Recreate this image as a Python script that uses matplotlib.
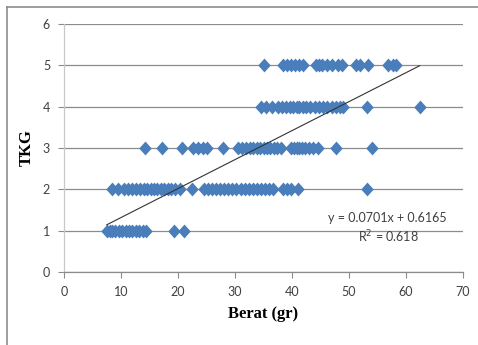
import matplotlib
matplotlib.use("Agg")
import matplotlib.pyplot as plt
from matplotlib.lines import Line2D
import numpy as np

# TKG level 1..5 and Berat (gr) values per level
berat_1 = [7.5, 8.0, 8.5, 9.0, 9.6, 10.2, 10.8, 11.4, 12.0, 12.6, 13.2, 13.8, 14.3, 19.3, 21.0]
berat_2 = [8.5, 9.5, 10.5, 11.3, 12.0, 12.7, 13.3, 14.0, 14.6, 15.2, 15.8, 16.4, 17.0, 17.6,
           18.2, 18.8, 19.5, 20.3, 22.5, 24.5, 25.2, 25.9, 26.6, 27.3, 28.0, 28.8, 29.5, 30.2,
           31.0, 31.7, 32.4, 33.1, 33.8, 34.5, 35.3, 36.0, 36.7, 38.5, 39.2, 39.9, 41.0, 53.1]
berat_3 = [14.2, 17.2, 20.7, 22.7, 23.5, 24.3, 25.1, 27.9, 30.5, 31.3, 31.9, 32.6, 33.2, 33.8,
           34.4, 35.0, 35.6, 36.2, 36.8, 37.4, 38.0, 39.8, 40.3, 40.8, 41.3, 41.8, 42.3, 43.0,
           43.7, 44.5, 47.7, 54.1]
berat_4 = [34.5, 35.5, 36.5, 37.5, 38.3, 39.0, 39.6, 40.2, 40.8, 41.3, 41.9, 42.5, 43.2, 44.0,
           44.8, 45.5, 46.2, 47.0, 47.8, 48.5, 49.0, 53.1, 62.4]
berat_5 = [35.1, 38.5, 39.2, 39.8, 40.5, 41.2, 42.0, 44.2, 44.8, 45.3, 46.2, 47.0, 48.0, 48.7,
           51.3, 52.0, 53.3, 56.8, 57.7, 58.2]
levels = [1, 2, 3, 4, 5]

slope = 0.0701
intercept = 0.6165
r2 = 0.618

x_ticks = [0, 10, 20, 30, 40, 50, 60, 70]
y_ticks = [0, 1, 2, 3, 4, 5, 6]

xs = []
ys = []
for lvl, arr in zip(levels, [berat_1, berat_2, berat_3, berat_4, berat_5]):
    xs += arr
    ys += [lvl] * len(arr)
xs = np.array(xs)
ys = np.array(ys)

fig = plt.figure(figsize=(4.78, 3.45), dpi=100)
ax = fig.add_axes([64/478, (345-272)/345, (463-64)/478, (272-24)/345])

ax.set_xlim(0, 70)
ax.set_ylim(0, 6)
ax.set_axisbelow(True)
ax.yaxis.grid(True, color='#8c8c8c', linewidth=0.9)
ax.xaxis.grid(False)

diamond = [(0, 1), (0.9, 0), (0, -1), (-0.9, 0), (0, 1)]
ax.plot(xs, ys, linestyle='none', marker=diamond, markersize=10, color='#4a7ebb',
        markeredgewidth=0, zorder=3)

xl = np.array([xs.min(), xs.max()])
ax.plot(xl, slope * xl + intercept, color='#333333', linewidth=0.8, zorder=4)

ax.set_xticks(x_ticks)
ax.set_yticks(y_ticks)
tick_font = 'Lato'
for lab in ax.get_xticklabels() + ax.get_yticklabels():
    lab.set_fontfamily(tick_font)
    lab.set_fontsize(9)
    lab.set_color('#404040')
ax.tick_params(axis='both', length=4, color='#8c8c8c', width=0.8)
ax.tick_params(axis='x', pad=6)
ax.tick_params(axis='y', pad=6)

for s in ['top', 'right']:
    ax.spines[s].set_visible(False)
ax.spines['left'].set_color('#c8c8c8')
ax.spines['bottom'].set_color('#8c8c8c')
ax.spines['left'].set_linewidth(0.9)
ax.spines['bottom'].set_linewidth(0.9)

ax.set_xlabel('Berat (gr)', fontfamily='Liberation Serif', fontweight='bold', fontsize=12, labelpad=6)
ax.set_ylabel('TKG', fontfamily='Liberation Serif', fontweight='bold', fontsize=12, labelpad=6)

fig.text(387/478, 1 - 218/345, 'y = 0.0701x + 0.6165', ha='center', va='center',
         fontfamily='Lato', fontsize=9, color='#404040')
fig.text(388/478, 1 - 237/345, 'R$^2$ = 0.618', ha='center', va='center',
         fontfamily='Lato', fontsize=9, color='#404040')

# outer chart frame (left and top)
fig.add_artist(Line2D([6.5/478, 6.5/478], [0, 1 - 6.5/345], transform=fig.transFigure,
                      color='#8c8c8c', linewidth=1.2))
fig.add_artist(Line2D([6.5/478, 1], [1 - 6.5/345, 1 - 6.5/345], transform=fig.transFigure,
                      color='#8c8c8c', linewidth=1.2))

fig.savefig('out.png', dpi=100)
